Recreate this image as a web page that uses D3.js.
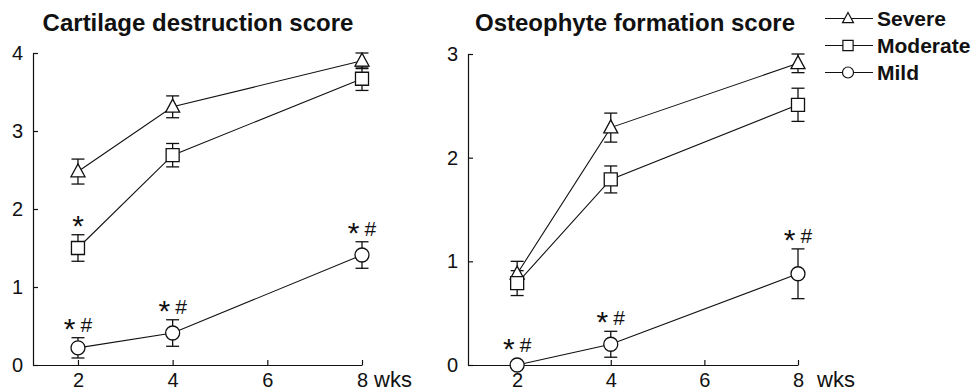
<!DOCTYPE html>
<html><head><meta charset="utf-8">
<script src="https://cdn.jsdelivr.net/npm/d3@7"></script>
<style>
html,body{margin:0;padding:0;background:#fff;}
svg{display:block;}
text{font-family:"Liberation Sans",Arial,sans-serif;fill:#111;}
</style></head>
<body>
<svg id="chart" width="974" height="391"></svg>
<script>
// ---- data ----
const weeks = [2, 4, 8];
const xTicks = [2, 4, 6, 8];
const seriesNames = ["Severe", "Moderate", "Mild"];
const seriesShapes = ["triangle", "square", "circle"];

const cartTitle = "Cartilage destruction score";
const cartYTicks = [0, 1, 2, 3, 4];
const cartSevere = [2.48, 3.31, 3.9];
const cartSevereErr = [0.16, 0.14, 0.1];
const cartModerate = [1.5, 2.69, 3.67];
const cartModerateErr = [0.17, 0.15, 0.15];
const cartMild = [0.22, 0.41, 1.41];
const cartMildErr = [0.13, 0.17, 0.17];
const cartSevereNote = ["", "", ""];
const cartModerateNote = ["*", "", ""];
const cartMildNote = ["*#", "*#", "*#"];

const osteoTitle = "Osteophyte formation score";
const osteoYTicks = [0, 1, 2, 3];
const osteoSevere = [0.88, 2.29, 2.91];
const osteoSevereErr = [0.12, 0.14, 0.09];
const osteoModerate = [0.79, 1.79, 2.51];
const osteoModerateErr = [0.12, 0.13, 0.16];
const osteoMild = [0, 0.2, 0.88];
const osteoMildErr = [0.02, 0.125, 0.24];
const osteoSevereNote = ["", "", ""];
const osteoModerateNote = ["", "", ""];
const osteoMildNote = ["*#", "*#", "*#"];

const xUnit = "wks";

// ---- drawing ----
const svg = d3.select("#chart");
const INK = "#111";

function markerPath(shape, s) {
  if (shape === "triangle") {
    return `M0,${-s*1.1}L${s},${s*0.75}L${-s},${s*0.75}Z`;
  } else if (shape === "square") {
    return `M${-s*0.93},${-s*0.93}H${s*0.93}V${s*0.93}H${-s*0.93}Z`;
  } else {
    const r = s;
    return `M${r},0A${r},${r} 0 1,1 ${-r},0A${r},${r} 0 1,1 ${r},0Z`;
  }
}

function addNote(g, cx, baseY, note) {
  const t = g.append("text").attr("x", cx).attr("y", baseY).attr("text-anchor", "middle");
  const hasHash = note.indexOf("#") >= 0;
  t.append("tspan").attr("font-size", 30).attr("dy", 7).text("*");
  if (hasHash) {
    t.append("tspan").attr("font-size", 21).attr("dy", -7).attr("dx", 5).text("#");
  }
}

function panel(cfg) {
  const g = svg.append("g");
  const x = d3.scaleLinear().domain(cfg.xDomain).range(cfg.xRange);
  const y = d3.scaleLinear().domain([0, d3.max(cfg.yTicks)]).range([365, cfg.yTop]);

  // title
  g.append("text").attr("x", cfg.titleX).attr("y", 31)
    .attr("text-anchor", "middle").attr("font-size", 24).attr("font-weight", "bold")
    .text(cfg.title);

  // axes
  const xa = g.append("g").attr("transform", `translate(0,${y(0)})`)
    .call(d3.axisBottom(x).tickValues(xTicks).tickFormat(d3.format("d"))
      .tickSize(-5).tickSizeOuter(0).tickPadding(8));
  xa.selectAll("text").attr("font-size", 20).attr("font-family", "Liberation Sans, Arial, sans-serif").attr("fill", INK);
  xa.selectAll("path,line").attr("stroke", INK).attr("stroke-width", 1.2);

  const ya = g.append("g").attr("transform", `translate(${x.range()[0]},0)`)
    .call(d3.axisLeft(y).tickValues(cfg.yTicks).tickFormat(d3.format("d"))
      .tickSize(-5).tickSizeOuter(0).tickPadding(10));
  ya.selectAll("text").attr("font-size", 20).attr("font-family", "Liberation Sans, Arial, sans-serif").attr("fill", INK);
  ya.selectAll("path,line").attr("stroke", INK).attr("stroke-width", 1.2);

  g.append("text").attr("x", cfg.unitX).attr("y", 387).attr("font-size", 22).text(xUnit);

  const line = d3.line().x(d => x(d[0])).y(d => y(d[1]));

  cfg.series.forEach((s) => {
    const pts = weeks.map((w, i) => [w, s.values[i], s.err[i], s.note[i]]);
    g.append("path").attr("d", line(pts)).attr("fill", "none").attr("stroke", INK).attr("stroke-width", 1.1);
  });

  cfg.series.forEach((s) => {
    const pts = weeks.map((w, i) => [w, s.values[i], s.err[i], s.note[i]]);
    const eb = g.append("g").attr("stroke", INK).attr("stroke-width", 1.3);
    pts.forEach(p => {
      const cx = x(p[0]), top = y(p[1] + p[2]), bot = y(p[1] - p[2]);
      eb.append("line").attr("x1", cx).attr("x2", cx).attr("y1", top).attr("y2", bot);
      eb.append("line").attr("x1", cx - 6.5).attr("x2", cx + 6.5).attr("y1", top).attr("y2", top);
      eb.append("line").attr("x1", cx - 6.5).attr("x2", cx + 6.5).attr("y1", bot).attr("y2", bot);
    });
  });

  cfg.series.forEach((s) => {
    const pts = weeks.map((w, i) => [w, s.values[i], s.err[i], s.note[i]]);
    g.selectAll(null).data(pts).enter().append("path")
      .attr("transform", d => `translate(${x(d[0])},${y(d[1])})`)
      .attr("d", markerPath(s.shape, 7))
      .attr("fill", "#fff").attr("stroke", INK).attr("stroke-width", 1.3);
    pts.filter(d => d[3]).forEach(d => {
      addNote(g, x(d[0]), Math.min(y(d[1] + d[2]) - 6, 352), d[3]);
    });
  });
}

panel({
  title: cartTitle, titleX: 198, yTicks: cartYTicks, yTop: 53,
  xDomain: [1.05, 8], xRange: [33, 362], unitX: 374,
  series: [
    {values: cartSevere, err: cartSevereErr, note: cartSevereNote, shape: seriesShapes[0]},
    {values: cartModerate, err: cartModerateErr, note: cartModerateNote, shape: seriesShapes[1]},
    {values: cartMild, err: cartMildErr, note: cartMildNote, shape: seriesShapes[2]}
  ]
});

panel({
  title: osteoTitle, titleX: 635, yTicks: osteoYTicks, yTop: 54,
  xDomain: [0.95, 8], xRange: [468, 798], unitX: 817,
  series: [
    {values: osteoSevere, err: osteoSevereErr, note: osteoSevereNote, shape: seriesShapes[0]},
    {values: osteoModerate, err: osteoModerateErr, note: osteoModerateNote, shape: seriesShapes[1]},
    {values: osteoMild, err: osteoMildErr, note: osteoMildNote, shape: seriesShapes[2]}
  ]
});

// legend
const lg = svg.append("g");
seriesNames.forEach((name, i) => {
  const cy = 18.5 + i * 27;
  lg.append("line").attr("x1", 825).attr("x2", 873).attr("y1", cy).attr("y2", cy)
    .attr("stroke", INK).attr("stroke-width", 1.1);
  lg.append("path").attr("transform", `translate(848,${cy})`)
    .attr("d", markerPath(seriesShapes[i], 5.5))
    .attr("fill", "#fff").attr("stroke", INK).attr("stroke-width", 1.2);
  lg.append("text").attr("x", 877).attr("y", cy + 7.5)
    .attr("font-size", 21).attr("font-weight", "bold").text(name);
});
</script>
</body></html>
